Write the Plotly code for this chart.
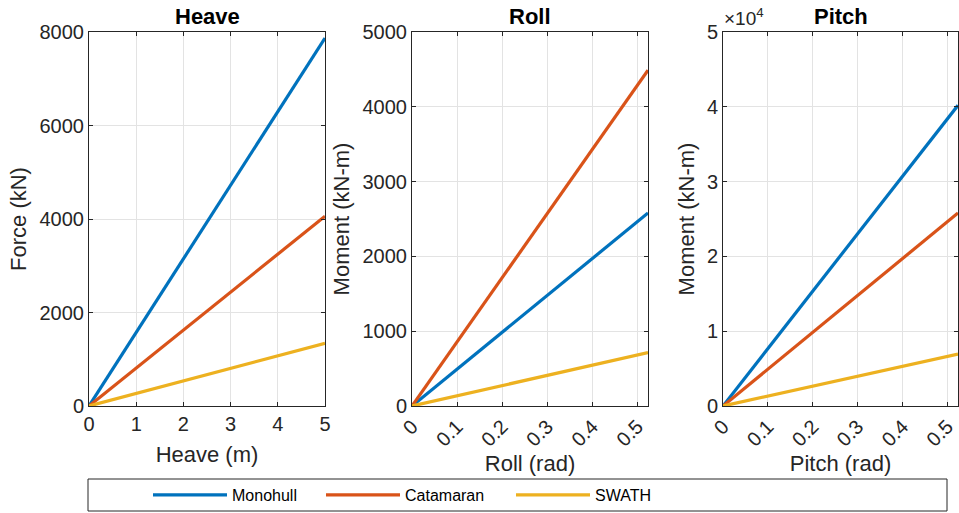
import math
import plotly.graph_objects as go

# ---- data ----
series = ["Monohull", "Catamaran", "SWATH"]
colors = ["#0072BD", "#D95319", "#EDB120"]

heave_x = [0, 5]
heave_force = {"Monohull": [0, 7870], "Catamaran": [0, 4060], "SWATH": [0, 1340]}

roll_x = [0, math.pi / 6]
roll_moment = {"Monohull": [0, 2580], "Catamaran": [0, 4490], "SWATH": [0, 715]}

pitch_x = [0, math.pi / 6]
pitch_moment = {"Monohull": [0, 40200], "Catamaran": [0, 25800], "SWATH": [0, 6950]}

heave_ticks = [0, 1, 2, 3, 4, 5]
rad_ticks = [0, 0.1, 0.2, 0.3, 0.4, 0.5]
rad_ticklabels = ["0", "0.1", "0.2", "0.3", "0.4", "0.5"]
force_ticks = [0, 2000, 4000, 6000, 8000]
roll_ticks = [0, 1000, 2000, 3000, 4000, 5000]
pitch_ticks = [0, 10000, 20000, 30000, 40000, 50000]
pitch_ticklabels = ["0", "1", "2", "3", "4", "5"]

W, H = 959, 513
FONT = "Liberation Sans, Arial, Helvetica, sans-serif"
AX = "#262626"

legend_names = ["legend", "legend2", "legend3"]

fig = go.Figure()
for s, c, lg in zip(series, colors, legend_names):
    fig.add_trace(go.Scatter(x=heave_x, y=heave_force[s], mode="lines", name=s,
                             line=dict(color=c, width=3.2), xaxis="x", yaxis="y",
                             legendgroup=s, legend=lg))
    fig.add_trace(go.Scatter(x=roll_x, y=roll_moment[s], mode="lines", name=s,
                             line=dict(color=c, width=3.2), xaxis="x2", yaxis="y2",
                             legendgroup=s, showlegend=False))
    fig.add_trace(go.Scatter(x=pitch_x, y=pitch_moment[s], mode="lines", name=s,
                             line=dict(color=c, width=3.2), xaxis="x3", yaxis="y3",
                             legendgroup=s, showlegend=False))

def px_x(p):
    return p / W

def px_y(p):
    return 1 - p / H

ydom = [px_y(406), px_y(32)]
doms = [[px_x(89), px_x(325)], [px_x(412), px_x(648)], [px_x(723), px_x(958)]]

common = dict(showline=True, linecolor=AX, linewidth=1, mirror="ticks",
              ticks="inside", ticklen=4, tickcolor=AX,
              showgrid=True, gridcolor="#E3E3E3", gridwidth=1, zeroline=False,
              tickfont=dict(family=FONT, size=20, color=AX),
              title_font=dict(family=FONT, size=22, color=AX))

def legend_at(xp):
    return dict(orientation="h", x=px_x(xp), y=px_y(495), xanchor="left", yanchor="middle",
                font=dict(family=FONT, size=16, color="#000000"),
                bgcolor="rgba(0,0,0,0)", borderwidth=0, itemwidth=74)

fig.update_layout(
    width=W, height=H,
    margin=dict(l=0, r=0, t=0, b=0, autoexpand=False),
    paper_bgcolor="white", plot_bgcolor="white",
    showlegend=True,
    xaxis=dict(domain=doms[0], anchor="y", range=[0, 5], tickvals=heave_ticks,
               title=dict(text="Heave (m)", standoff=12), **common),
    yaxis=dict(domain=ydom, anchor="x", range=[0, 8000], tickvals=force_ticks,
               title=dict(text="Force (kN)", standoff=6), **common),
    xaxis2=dict(domain=doms[1], anchor="y2", range=[0, math.pi / 6], tickvals=rad_ticks,
                ticktext=rad_ticklabels, tickangle=-45,
                title=dict(text="Roll (rad)", standoff=4), **common),
    yaxis2=dict(domain=ydom, anchor="x2", range=[0, 5000], tickvals=roll_ticks,
                title=dict(text="Moment (kN-m)", standoff=6), **common),
    xaxis3=dict(domain=doms[2], anchor="y3", range=[0, math.pi / 6], tickvals=rad_ticks,
                ticktext=rad_ticklabels, tickangle=-45,
                title=dict(text="Pitch (rad)", standoff=4), **common),
    yaxis3=dict(domain=ydom, anchor="x3", range=[0, 50000], tickvals=pitch_ticks,
                ticktext=pitch_ticklabels,
                title=dict(text="Moment (kN-m)", standoff=6), **common),
    legend=legend_at(148),
    legend2=legend_at(321),
    legend3=legend_at(511),
)

titles = ["Heave", "Roll", "Pitch"]
for t, d in zip(titles, doms):
    fig.add_annotation(text="<b>%s</b>" % t, x=(d[0] + d[1]) / 2, y=px_y(16),
                       xref="paper", yref="paper", showarrow=False,
                       font=dict(family=FONT, size=22, color="#000000"),
                       xanchor="center", yanchor="middle")

fig.add_annotation(text="×10<sup>4</sup>", x=px_x(722), y=px_y(17), xref="paper", yref="paper",
                   showarrow=False, xanchor="left", yanchor="middle",
                   font=dict(family=FONT, size=19, color=AX))

# legend box
fig.add_shape(type="rect", xref="paper", yref="paper",
              x0=px_x(88), x1=px_x(947), y0=px_y(511), y1=px_y(479),
              line=dict(color=AX, width=1), fillcolor="rgba(0,0,0,0)")

fig.write_html("out.html")
